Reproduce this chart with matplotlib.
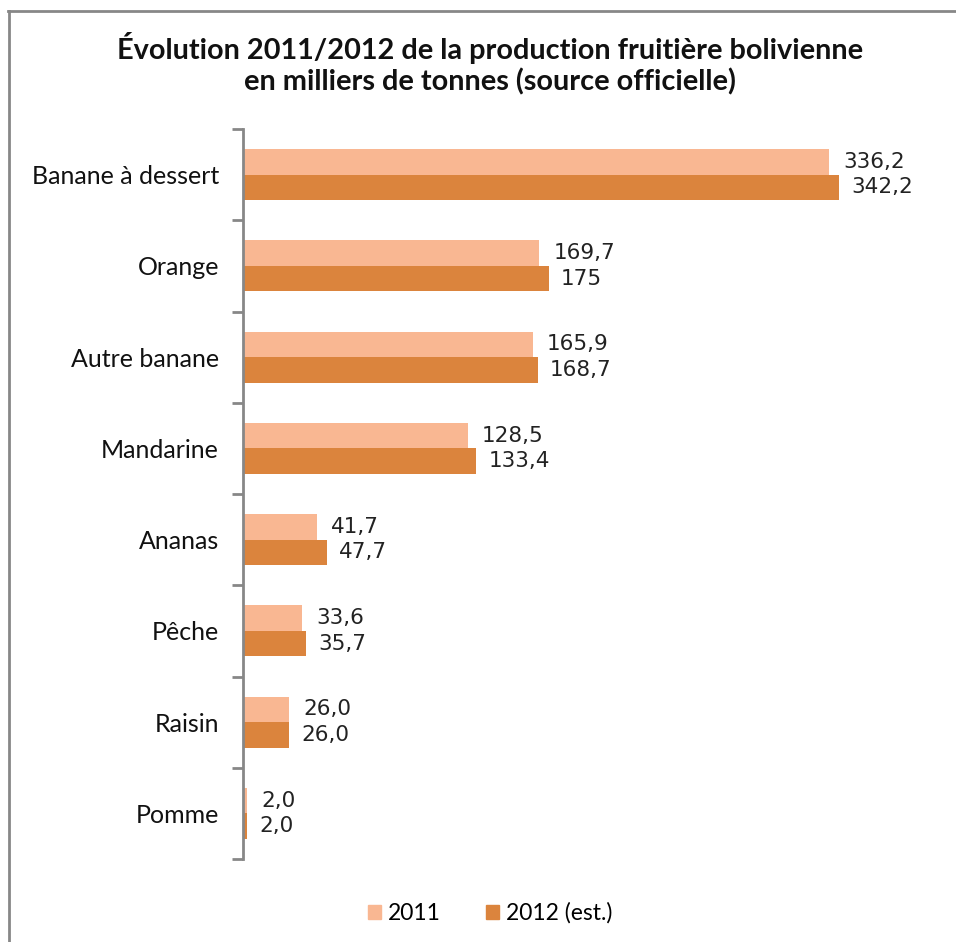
import matplotlib
matplotlib.use("Agg")
import matplotlib.pyplot as plt
from matplotlib.patches import Rectangle
from matplotlib.lines import Line2D
import numpy as np

categories = ["Banane à dessert", "Orange", "Autre banane", "Mandarine",
              "Ananas", "Pêche", "Raisin", "Pomme"]
values_2011 = [336.2, 169.7, 165.9, 128.5, 41.7, 33.6, 26.0, 2.0]
values_2012 = [342.2, 175.0, 168.7, 133.4, 47.7, 35.7, 26.0, 2.0]
labels_2011 = ["336,2", "169,7", "165,9", "128,5", "41,7", "33,6", "26,0", "2,0"]
labels_2012 = ["342,2", "175", "168,7", "133,4", "47,7", "35,7", "26,0", "2,0"]
series_names = ["2011", "2012 (est.)"]

c2011 = "#F9B792"
c2012 = "#DB843D"
gray = "#878787"

W, H = 956, 942
fig = plt.figure(figsize=(W / 100, H / 100), dpi=100)
fig.patch.set_facecolor("white")

# outer frame (top and left visible)
fig.add_artist(Line2D([9 / W, 9 / W], [0, 1 - 10.5 / H], transform=fig.transFigure, color=gray, lw=2))
fig.add_artist(Line2D([8 / W, 1], [1 - 10.5 / H, 1 - 10.5 / H], transform=fig.transFigure, color=gray, lw=2))

ax = fig.add_axes([244 / W, 1 - 859 / H, (940 - 244) / W, (859 - 129) / H])
n = len(categories)
y = np.arange(n)
h = 0.28
ax.barh(y - h / 2, values_2011, height=h, color=c2011, label=series_names[0])
ax.barh(y + h / 2, values_2012, height=h, color=c2012, label=series_names[1])
ax.set_xlim(0, 400)
ax.set_ylim(n - 0.5, -0.5)

lab_font = dict(family="DejaVu Sans", fontsize=15.5, color="#222222")
for i in range(n):
    ax.text(values_2011[i] + 8, y[i] - h / 2, labels_2011[i], va="center", ha="left", **lab_font)
    ax.text(values_2012[i] + 7, y[i] + h / 2, labels_2012[i], va="center", ha="left", **lab_font)

for s in ["top", "right", "bottom"]:
    ax.spines[s].set_visible(False)
ax.spines["left"].set_color(gray)
ax.spines["left"].set_linewidth(2)
ax.spines["left"].set_position(("outward", 1))
ax.set_xticks([])
ax.set_yticks(y)
ax.set_yticklabels(categories, fontsize=18, family="Lato", color="#111111")
ax.tick_params(axis="y", which="major", length=0, pad=17)
ax.set_yticks(np.arange(-0.5, n, 1.0), minor=True)
ax.tick_params(axis="y", which="minor", length=8, width=2, color=gray, direction="out")

fig.text(490 / W, 1 - 48 / H, "Évolution 2011/2012 de la production fruitière bolivienne",
         ha="center", va="center", fontsize=20.8, fontweight="bold", family="Lato", color="#111111")
fig.text(490 / W, 1 - 82 / H, "en milliers de tonnes (source officielle)",
         ha="center", va="center", fontsize=20.8, fontweight="bold", family="Lato", color="#111111")

handles = [Rectangle((0, 0), 1, 1, color=c2011), Rectangle((0, 0), 1, 1, color=c2012)]
fig.legend(handles, series_names, loc="center", bbox_to_anchor=(490 / W, 1 - 913 / H),
           ncol=2, frameon=False, prop=dict(family="Lato", size=16.5),
           handlelength=0.55, handleheight=0.55, handletextpad=0.3, columnspacing=2.0)

fig.savefig("out.png", dpi=100, facecolor="white")
